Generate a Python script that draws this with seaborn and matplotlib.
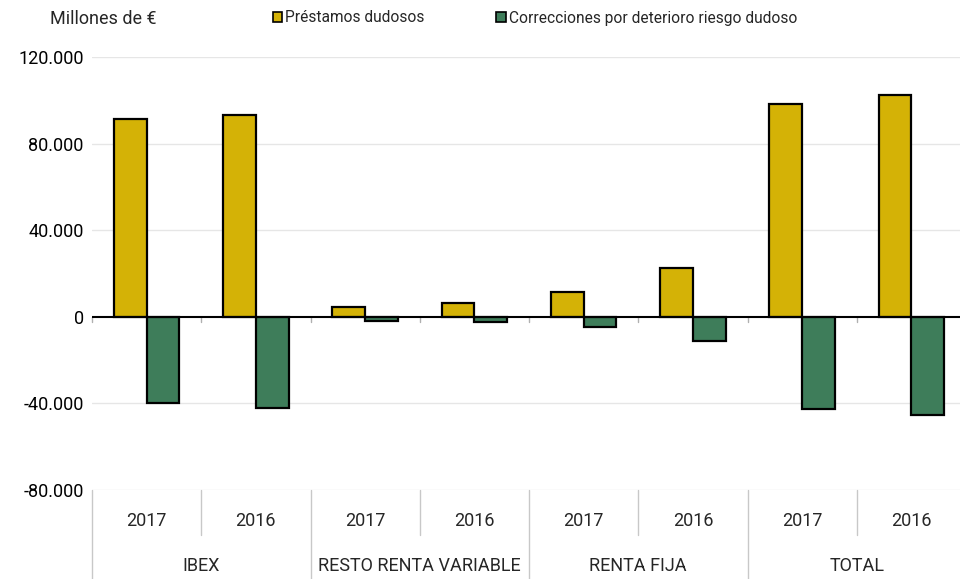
import matplotlib
matplotlib.use("Agg")
import matplotlib.pyplot as plt
import matplotlib.transforms as mtransforms
from matplotlib.ticker import FuncFormatter
from matplotlib.patches import Patch
import seaborn as sns
import pandas as pd

# ---- data ----
groups = ["IBEX", "RESTO RENTA VARIABLE", "RENTA FIJA", "TOTAL"]
years = ["2017", "2016"]
series = ["Préstamos dudosos", "Correcciones por deterioro riesgo dudoso"]
prestamos = [91400, 93200, 4600, 6600, 11400, 22400, 98400, 102500]
correcciones = [-39700, -42000, -2000, -2500, -4600, -11100, -42500, -45200]
yticks = [-80000, -40000, 0, 40000, 80000, 120000]

colors = ["#D4B206", "#3E7D5A"]

cats = [f"{g}|{y}" for g in groups for y in years]
df = pd.DataFrame({
    "cat": cats * 2,
    "serie": [series[0]] * len(cats) + [series[1]] * len(cats),
    "valor": prestamos + correcciones,
})

sns.set_theme(style="white")
plt.rcParams["font.family"] = ["Roboto", "DejaVu Sans"]

fig = plt.figure(figsize=(9.6, 5.79), dpi=100)
ax = fig.add_axes([92 / 960, 89 / 579, 874 / 960, 433 / 579])

sns.barplot(data=df, x="cat", y="valor", hue="serie", order=cats,
            hue_order=series, palette=colors, width=0.6, ax=ax,
            edgecolor="black", linewidth=1.6, saturation=1, legend=False)

ax.set_xlim(-0.5, len(cats) - 0.5)
ax.set_ylim(-80000, 120000)
ax.set_yticks(yticks)
ax.yaxis.set_major_formatter(FuncFormatter(lambda v, p: f"{v:,.0f}".replace(",", ".")))
ax.tick_params(axis="y", length=0, pad=6, labelsize=13, labelcolor="black")
ax.set_xticks([])
ax.set_xlabel("")
ax.set_ylabel("")
for s in ax.spines.values():
    s.set_visible(False)

for v in yticks:
    if v != 0:
        ax.axhline(v, color="#e6e6e6", lw=1, zorder=0)
ax.axhline(0, color="black", lw=1.5, zorder=3)

trans = mtransforms.blended_transform_factory(ax.transData, ax.transAxes)
n = len(cats)
# small ticks under zero line at category boundaries
for k in range(n + 1):
    b = k - 0.5
    ax.plot([b, b], [0, -2600], color="#b0b0b0", lw=1, zorder=2, clip_on=False)

# category axis
sep_col = "#c8c8c8"
for k in range(n + 1):
    b = k - 0.5
    if k % 2 == 0:
        ax.plot([b, b], [0, -0.2055], color=sep_col, lw=1, transform=trans, clip_on=False)
    else:
        ax.plot([b, b], [0, -0.104], color=sep_col, lw=1, transform=trans, clip_on=False)
for i, c in enumerate(cats):
    ax.text(i, -0.0716, c.split("|")[1], transform=trans, ha="center", va="center", fontsize=13)
for j, g in enumerate(groups):
    ax.text(2 * j + 0.5, -0.175, g, transform=trans, ha="center", va="center", fontsize=13)

# title / unit
fig.text(50 / 960, 1 - 19 / 579, "Millones de €", ha="left", va="center", fontsize=13)

# legend
handles = [Patch(facecolor=colors[i], edgecolor="black", linewidth=1.2, label=series[i]) for i in range(2)]
fig.legend(handles=handles, loc="center left", bbox_to_anchor=(273 / 960, 1 - 18 / 579),
           ncol=2, frameon=False, fontsize=11.2, handlelength=0.6, handleheight=0.6,
           handletextpad=0.2, columnspacing=4.6, borderaxespad=0, borderpad=0)

fig.savefig("out.png", dpi=100)
